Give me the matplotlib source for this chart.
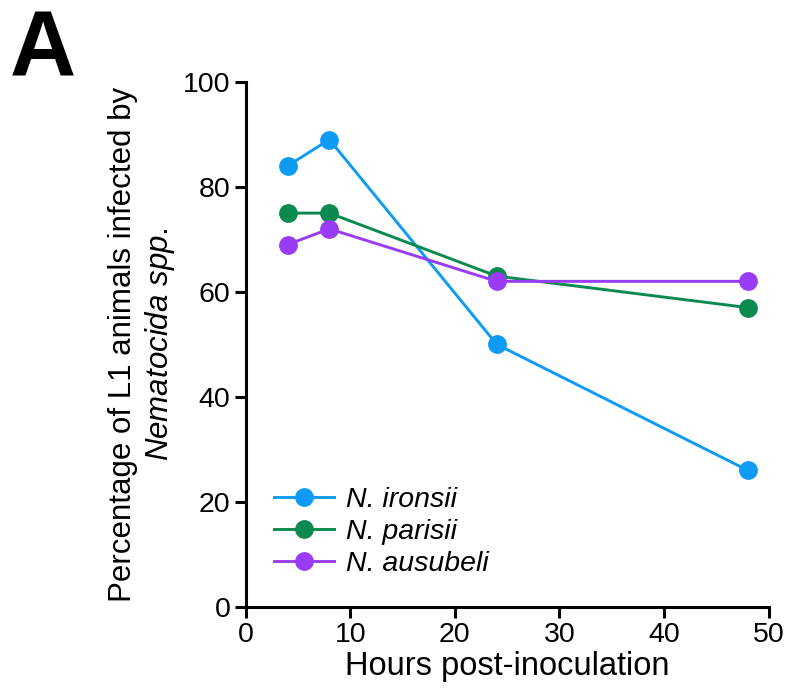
import matplotlib.pyplot as plt

plt.rcParams['font.family'] = 'Liberation Sans'
plt.rcParams['mathtext.fontset'] = 'custom'
plt.rcParams['mathtext.it'] = 'Liberation Sans:italic'
plt.rcParams['mathtext.rm'] = 'Liberation Sans'

hours = [4, 8, 24, 48]
ironsii = [84, 89, 50, 26]
parisii = [75, 75, 63, 57]
ausubeli = [69, 72, 62, 62]

series = [
    ("N. ironsii", ironsii, "#0f9bf4"),
    ("N. parisii", parisii, "#0a8a4e"),
    ("N. ausubeli", ausubeli, "#9a3cf6"),
]

fig = plt.figure(figsize=(7.9, 6.88), dpi=100)
ax = fig.add_axes([0.311, 0.118, 0.662, 0.763])

for name, vals, col in series:
    ax.plot(hours, vals, color=col, lw=2.1, marker='o', markersize=12.5,
            label=name, clip_on=False, zorder=3)

ax.set_xlim(0, 50)
ax.set_ylim(0, 100)
ax.set_xticks([0, 10, 20, 30, 40, 50])
ax.set_yticks([0, 20, 40, 60, 80, 100])
ax.spines['top'].set_visible(False)
ax.spines['right'].set_visible(False)
for s in ['left', 'bottom']:
    ax.spines[s].set_linewidth(2.2)
ax.tick_params(width=2.2, length=8, labelsize=20.5, pad=3)

ax.set_xlabel("Hours post-inoculation", fontsize=23.5, labelpad=2)
ax.set_ylabel("Percentage of L1 animals infected by\n$\\it{Nematocida\\ spp.}$",
              fontsize=22.5, labelpad=4, linespacing=1.2)

leg = ax.legend(loc='lower left', bbox_to_anchor=(0.032, 0.036), frameon=False,
                fontsize=20.5, handlelength=2.1, handletextpad=0.45,
                labelspacing=0.2, borderaxespad=0)
for t in leg.get_texts():
    t.set_fontstyle('italic')

fig.text(0.012, 0.89, "A", fontsize=66, fontweight='bold')

fig.savefig("out.png", dpi=100)
